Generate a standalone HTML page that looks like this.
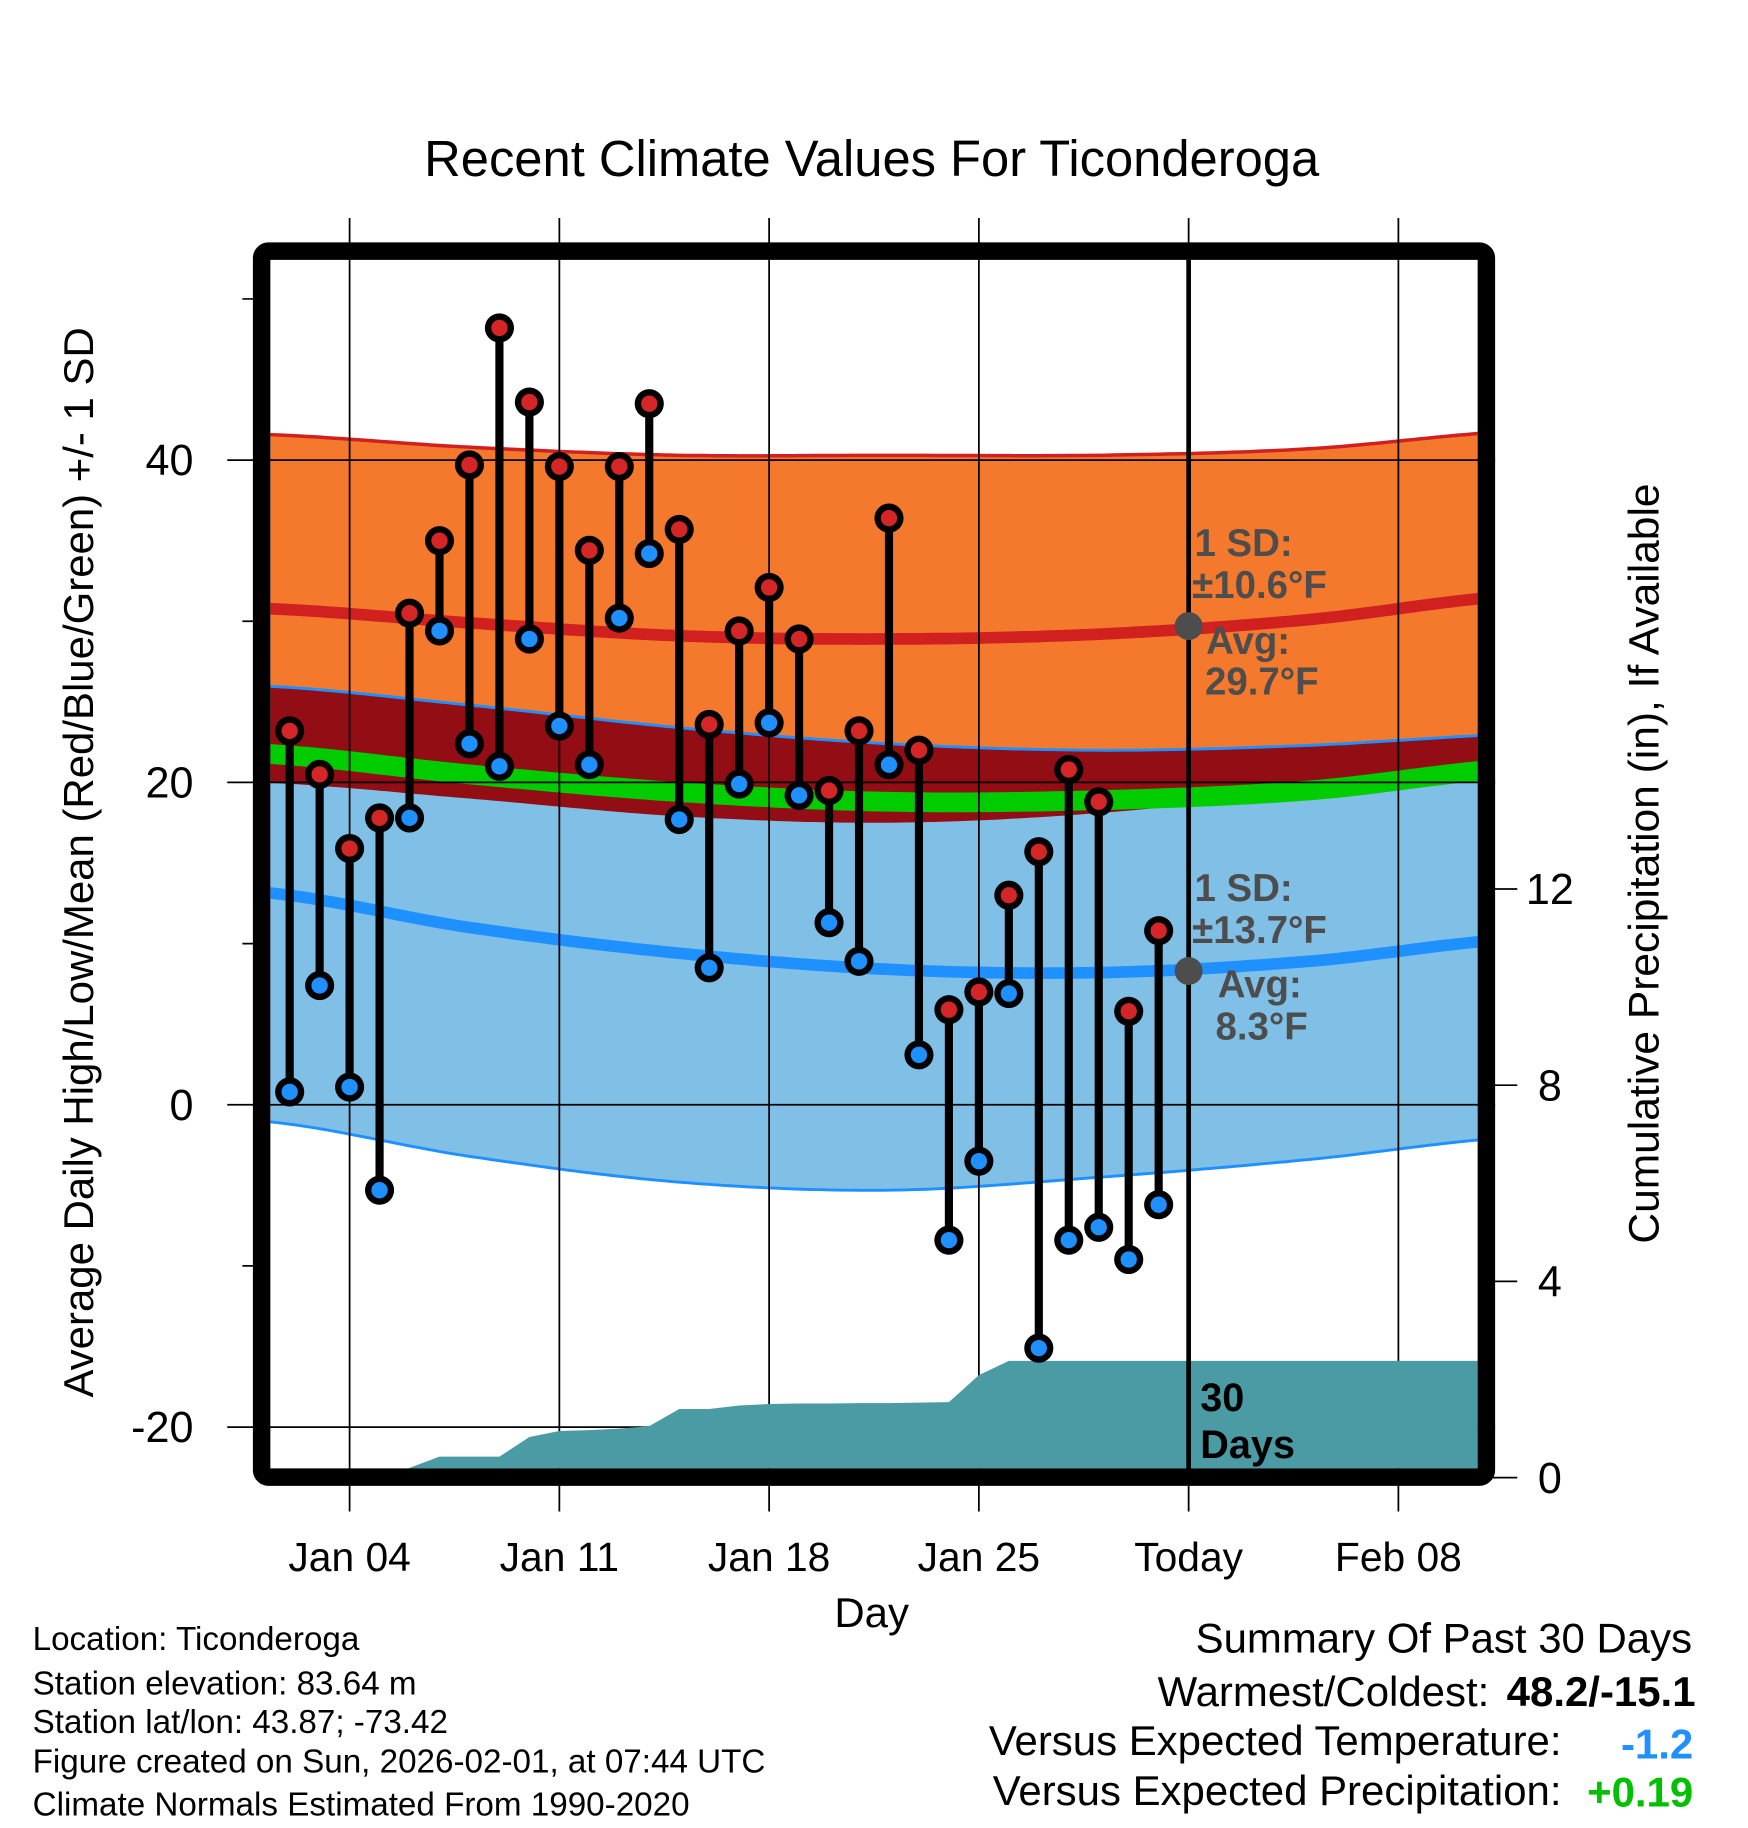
<!DOCTYPE html>
<html><head><meta charset="utf-8"><style>
html,body{margin:0;padding:0;background:#fff;}
svg{display:block;font-family:"Liberation Sans",Arial,sans-serif;}
</style></head><body>
<svg id="chart" width="1748" height="1828" viewBox="0 0 1500 1568.6" xmlns="http://www.w3.org/2000/svg">
<defs><clipPath id="plotclip"><rect x="232" y="223" width="1036" height="1037"/></clipPath></defs>
<text x="748" y="151" font-size="43.5" text-anchor="middle">Recent Climate Values For Ticonderoga</text>
<g id="bands" clip-path="url(#plotclip)"></g>
<g id="grid"></g>
<g id="precip" clip-path="url(#plotclip)"></g>
<g id="marks"></g>
<g id="annot"></g>
<rect x="224.5" y="215.5" width="1051" height="1052" fill="none" stroke="#000" stroke-width="15" rx="6"/>
<g id="axes"></g>
<text transform="translate(80,740) rotate(-90)" font-size="36" text-anchor="middle">Average Daily High/Low/Mean (Red/Blue/Green) +/- 1 SD</text>
<text transform="translate(1423,741) rotate(-90)" font-size="36.5" text-anchor="middle">Cumulative Precipitation (in), If Available</text>
<text x="748" y="1396" font-size="36" text-anchor="middle">Day</text>
<g font-size="28.5">
<text x="28" y="1416">Location: Ticonderoga</text>
<text x="28" y="1454">Station elevation: 83.64 m</text>
<text x="28" y="1487">Station lat/lon: 43.87; -73.42</text>
<text x="28" y="1521">Figure created on Sun, 2026-02-01, at 07:44 UTC</text>
<text x="28" y="1558">Climate Normals Estimated From 1990-2020</text>
</g>
<g font-size="36" text-anchor="end">
<text x="1452" y="1418">Summary Of Past 30 Days</text>
<text x="1278" y="1464">Warmest/Coldest:</text>
<text x="1455" y="1464" font-weight="bold">48.2/-15.1</text>
<text x="1340" y="1506">Versus Expected Temperature:</text>
<text x="1453" y="1509" font-weight="bold" fill="#1e90ff">-1.2</text>
<text x="1340" y="1549">Versus Expected Precipitation:</text>
<text x="1453" y="1550" font-weight="bold" fill="#00c000">+0.19</text>
</g>
</svg>
<script>
const normDays=[1,8,15,22,29,36,43];
const highMean=[30.8,29.9,29.1,28.9,29.2,30.1,31.6];
const highSD=[10.8,10.9,11.2,11.4,11.1,10.6,10.2];
const lowMean=[13.2,11.0,9.4,8.4,8.2,8.9,10.3];
const lowUpper=[26.0,24.8,23.4,22.4,22.0,22.3,23.0];
const lowLower=[-1.0,-3.2,-4.8,-5.3,-4.5,-3.4,-2.0];
const avgMean=[21.8,20.5,19.4,18.8,18.9,19.5,20.9];
const obsDays=[2,3,4,5,6,7,8,9,10,11,12,13,14,15,16,17,18,19,20,21,22,23,24,25,26,27,28,29,30,31];
const highs=[23.2,20.5,15.9,17.8,30.5,35.0,39.7,48.2,43.6,39.6,34.4,39.6,43.5,35.7,23.6,29.4,32.1,28.9,19.5,23.2,36.4,22.0,5.9,7.0,13.0,15.7,20.8,18.8,5.8,10.8];
const lows=[0.8,7.4,1.1,-5.3,17.8,29.4,22.4,21.0,28.9,23.5,21.1,30.2,34.2,17.7,8.5,19.9,23.7,19.2,11.3,8.9,21.1,3.1,-8.4,-3.5,6.9,-15.1,-8.4,-7.6,-9.6,-6.2];
const precip=[0,0,0,0,0.2,0.43,0.43,0.43,0.83,0.95,0.97,1.0,1.05,1.40,1.40,1.47,1.50,1.51,1.51,1.52,1.52,1.53,1.54,2.09,2.38,2.38,2.38,2.38,2.38,2.38];
const yTicks=[40,20,0,-20];
const yMinor=[50,30,10,-10];
const pTicks=[0,4,8,12];
const xTickDays=[4,11,18,25,32,39];
const xTickLabels=["Jan 04","Jan 11","Jan 18","Jan 25","Today","Feb 08"];
const todayDay=32;

const NS="http://www.w3.org/2000/svg";
function X(d){return 300+(d-4)*25.714;}
function Y(v){return 948-13.83*v;}
function P(p){return 1268-42.1*p;}
function mk(tag,attrs,parent){const e=document.createElementNS(NS,tag);for(const k in attrs)e.setAttribute(k,attrs[k]);parent.appendChild(e);return e;}
function interp(arr,d){
  let i=0;while(i<normDays.length-2&&d>normDays[i+1])i++;
  const t=(d-normDays[i])/(normDays[i+1]-normDays[i]);
  const p0=arr[Math.max(i-1,0)],p1=arr[i],p2=arr[i+1],p3=arr[Math.min(i+2,arr.length-1)];
  return 0.5*((2*p1)+(-p0+p2)*t+(2*p0-5*p1+4*p2-p3)*t*t+(-p0+3*p1-3*p2+p3)*t*t*t);
}
const samp=[];for(let d=1;d<=43;d+=0.25)samp.push(d);
function line(f){return samp.map(d=>X(d).toFixed(1)+","+Y(f(d)).toFixed(1)).join(" ");}
function band(fu,fl){return samp.map(d=>X(d).toFixed(1)+","+Y(fu(d)).toFixed(1)).join(" ")+" "+samp.slice().reverse().map(d=>X(d).toFixed(1)+","+Y(fl(d)).toFixed(1)).join(" ");}
const hU=d=>interp(highMean,d)+interp(highSD,d), hL=d=>interp(highMean,d)-interp(highSD,d);
const lU=d=>interp(lowUpper,d), lL=d=>interp(lowLower,d);
const bands=document.getElementById('bands');
let e;
e=mk('polygon',{points:band(hU,hL),fill:'#f5792d'},bands);


e=mk('polygon',{points:band(lU,lL),fill:'#80c0e6'},bands);


e=mk('polygon',{points:band(d=>Math.min(lU(d),hU(d)),d=>Math.max(hL(d),lL(d))),fill:'#920d14'},bands);


e=mk('polyline',{points:line(hU),fill:'none',stroke:'#d02020','stroke-width':3},bands);


e=mk('polyline',{points:line(lU),fill:'none',stroke:'#1e90ff','stroke-width':2.5},bands);


e=mk('polyline',{points:line(lL),fill:'none',stroke:'#1e90ff','stroke-width':2.5},bands);


e=mk('polyline',{points:line(d=>interp(avgMean,d)),fill:'none',stroke:'#00cc00','stroke-width':17},bands);


e=mk('polyline',{points:line(d=>interp(highMean,d)),fill:'none',stroke:'#d02020','stroke-width':10},bands);


e=mk('polyline',{points:line(d=>interp(lowMean,d)),fill:'none',stroke:'#1e90ff','stroke-width':10},bands);



const grid=document.getElementById('grid');
const axes=document.getElementById('axes');
yTicks.forEach(v=>{
  e=mk('line',{x1:195,x2:1283,y1:Y(v),y2:Y(v),stroke:'#000','stroke-width':1.5},grid);
  
  
  e=mk('text',{x:166,y:Y(v)+13,'font-size':37,'text-anchor':'end'},axes);
  e.textContent=v;
  
  
});
yMinor.forEach(v=>{
  e=mk('line',{x1:208,x2:224,y1:Y(v),y2:Y(v),stroke:'#000','stroke-width':1.5},axes);
  
  
});
xTickDays.forEach((d,i)=>{
  e=mk('line',{x1:X(d),x2:X(d),y1:187,y2:1297,stroke:'#000','stroke-width':1.5},grid);
  
  
  e=mk('text',{x:X(d),y:1348,'font-size':35,'text-anchor':'middle'},axes);
  e.textContent=xTickLabels[i];
  
  
});
pTicks.forEach(p=>{
  e=mk('line',{x1:1276,x2:1302,y1:P(p),y2:P(p),stroke:'#000','stroke-width':1.5},axes);
  
  
  e=mk('text',{x:1330,y:P(p)+13,'font-size':37,'text-anchor':'middle'},axes);
  e.textContent=p;
  
  
});

const pg=document.getElementById('precip');
let pts=[X(obsDays[0])+","+P(0)];
obsDays.forEach((d,i)=>pts.push(X(d).toFixed(1)+","+P(precip[i]).toFixed(1)));
pts.push("1270,"+P(precip[precip.length-1]).toFixed(1));pts.push("1270,"+P(0));
e=mk('polygon',{points:pts.join(" "),fill:'#4a9ba3'},pg);



const marks=document.getElementById('marks');
e=mk('line',{x1:X(todayDay),x2:X(todayDay),y1:223,y2:1262,stroke:'#000','stroke-width':4},marks);


obsDays.forEach((d,i)=>{
  const g=mk('g',{},marks);
  
  
  mk('line',{x1:X(d),x2:X(d),y1:Y(highs[i]),y2:Y(lows[i]),stroke:'#000','stroke-width':7},g);
  [[highs[i],'#d42626'],[lows[i],'#1e90ff']].forEach(([v,c])=>{
    mk('circle',{cx:X(d),cy:Y(v),r:12.5,fill:'#000'},g);
    mk('circle',{cx:X(d),cy:Y(v),r:7,fill:c},g);
  });
});

const an=document.getElementById('annot');
function txt(s,x,y,size,fill,name){const t=mk('text',{x:x,y:y,'font-size':size,'font-weight':'bold',fill:fill},an);t.textContent=s;}
e=mk('circle',{cx:X(todayDay),cy:Y(29.7),r:12,fill:'#4d4d4d'},an);


e=mk('circle',{cx:X(todayDay),cy:Y(8.3),r:12,fill:'#4d4d4d'},an);


txt("1 SD:",1025,477,33,'#4d4d4d','high-sd-label');
txt("±10.6°F",1023,513,33,'#4d4d4d','high-sd-value');
txt("Avg:",1035,561,33,'#4d4d4d','high-avg-label');
txt("29.7°F",1034,596,33,'#4d4d4d','high-avg-value');
txt("1 SD:",1025,773,33,'#4d4d4d','low-sd-label');
txt("±13.7°F",1023,809,33,'#4d4d4d','low-sd-value');
txt("Avg:",1045,856,33,'#4d4d4d','low-avg-label');
txt("8.3°F",1043,892,33,'#4d4d4d','low-avg-value');
txt("30",1030,1211,34,'#000','days-count');
txt("Days",1030,1251,34,'#000','days-label');
</script>
</body></html>
